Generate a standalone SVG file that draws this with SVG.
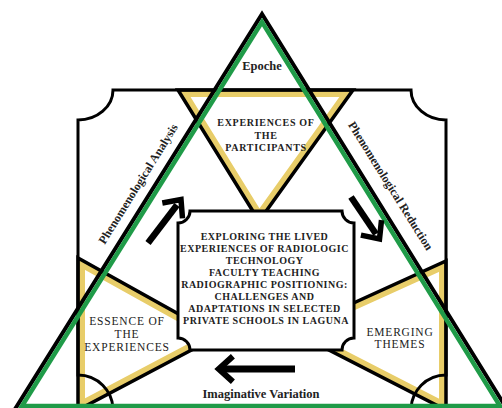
<svg xmlns="http://www.w3.org/2000/svg" width="502" height="408" viewBox="0 0 502 408">
<style>
.tri{fill:none;stroke:#000;stroke-width:3.5;stroke-linejoin:miter}
.band{fill:none;stroke:#e8cd69;stroke-width:14}
.frame{fill:none;stroke:#000;stroke-width:3}
.t{font-family:"Liberation Serif","Times New Roman",serif;fill:#222;text-anchor:middle}
.b{font-weight:bold}
.arr{fill:none;stroke:#000;stroke-linejoin:miter;stroke-linecap:butt}
</style>
<defs>
<clipPath id="cTop"><polygon points="178,90 353,90 259,221"/></clipPath>
<clipPath id="cBL"><polygon points="78,258 78,410 218,336"/></clipPath>
<clipPath id="cBR"><polygon points="446,261 446,410 292,331"/></clipPath>
</defs>
<rect width="502" height="408" fill="#fff"/>
<path d="M113,90 H411 A35,30 0 0 0 446,120 V375 A35,35 0 0 0 411,410 H113 A35,35 0 0 0 78,375 V120 A35,30 0 0 0 113,90 Z" fill="#fff"/>
<g id="node-participants">
<polygon class="band" points="178,90 353,90 259,221" clip-path="url(#cTop)"/>
<polygon class="tri" points="178,90 353,90 259,221"/>
</g>
<g id="node-essence">
<polygon class="band" points="78,258 78,410 218,336" clip-path="url(#cBL)"/>
<polygon class="tri" points="78,258 78,410 218,336"/>
</g>
<g id="node-emerging">
<polygon class="band" points="446,261 446,410 292,331" clip-path="url(#cBR)"/>
<polygon class="tri" points="446,261 446,410 292,331"/>
</g>
<g id="frame">
<path class="frame" d="M113,90 H411 A35,30 0 0 0 446,120 V375 A35,35 0 0 0 411,410 H113 A35,35 0 0 0 78,375 V120 A35,30 0 0 0 113,90 Z"/>
</g>
<g id="epoche-triangle">
<polygon points="262,14 14.3,410.25 507.7,410.25" fill="none" stroke="#000" stroke-width="4"/>
<polygon points="262,22 22,406 500,406" fill="none" stroke="#1f9b48" stroke-width="4.5"/>
</g>
<g id="node-center">
<path d="M190,211 H342 A12,12 0 0 0 354,223 V338 A12,12 0 0 0 342,350 H190 A12,12 0 0 0 178,338 V223 A12,12 0 0 0 190,211 Z" fill="#fff" stroke="#000" stroke-width="3"/>
<text class="t b" font-size="10" letter-spacing="0.5">
<tspan x="266" y="240">EXPLORING THE LIVED</tspan>
<tspan x="266" y="252">EXPERIENCES OF RADIOLOGIC</tspan>
<tspan x="266" y="264">TECHNOLOGY</tspan>
<tspan x="266" y="275.5">FACULTY TEACHING</tspan>
<tspan x="266" y="287.5">RADIOGRAPHIC POSITIONING:</tspan>
<tspan x="266" y="299.5">CHALLENGES AND</tspan>
<tspan x="266" y="311.5">ADAPTATIONS IN SELECTED</tspan>
<tspan x="266" y="323.5">PRIVATE SCHOOLS IN LAGUNA</tspan>
</text>
</g>
<g id="labels">
<text class="t b" font-size="12.5" x="262" y="70">Epoche</text>
<text class="t b" font-size="10" letter-spacing="0.7"><tspan x="266" y="126">EXPERIENCES OF</tspan><tspan x="266" y="138.5">THE</tspan><tspan x="266" y="151">PARTICIPANTS</tspan></text>
<text class="t" font-size="11.5" letter-spacing="0.8"><tspan x="127" y="325">ESSENCE OF</tspan><tspan x="127" y="338">THE</tspan><tspan x="127" y="351">EXPERIENCES</tspan></text>
<text class="t" font-size="11.5" letter-spacing="0.8"><tspan x="400" y="335.5">EMERGING</tspan><tspan x="400" y="347.5">THEMES</tspan></text>
<text class="t b" font-size="12.5" x="261" y="398">Imaginative Variation</text>
<text class="t b" font-size="12" transform="translate(141.5,186) rotate(-58)">Phenomenological Analysis</text>
<text class="t b" font-size="12" transform="translate(387.2,188) rotate(58)">Phenomenological Reduction</text>
</g>
<g id="connectors">
<line class="arr" x1="148" y1="243" x2="177" y2="205" stroke-width="6.5"/>
<polyline class="arr" points="162.3,203 181,199.5 182.5,218.4" stroke-width="5.5"/>
<line class="arr" x1="351" y1="197" x2="376" y2="234" stroke-width="6.5"/>
<polyline class="arr" points="381.5,220.1 379.5,239 360.9,235.1" stroke-width="5.5"/>
<line class="arr" x1="220" y1="369" x2="295" y2="369" stroke-width="7"/>
<polyline class="arr" points="232.9,356.3 218.8,369 232.9,381.7" stroke-width="6"/>
</g>
</svg>
